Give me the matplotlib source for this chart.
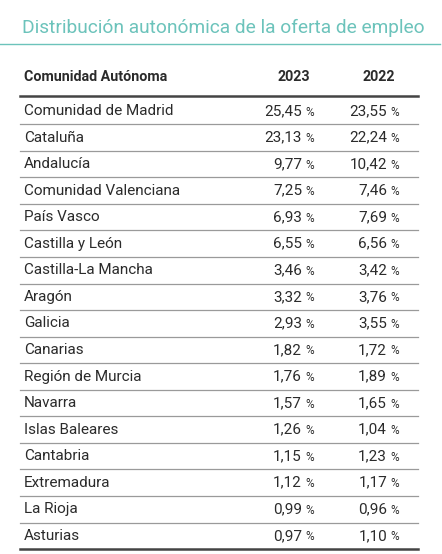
import matplotlib.pyplot as plt

# Table data
regions = ["Comunidad de Madrid", "Cataluña", "Andalucía", "Comunidad Valenciana",
           "País Vasco", "Castilla y León", "Castilla-La Mancha", "Aragón", "Galicia",
           "Canarias", "Región de Murcia", "Navarra", "Islas Baleares", "Cantabria",
           "Extremadura", "La Rioja", "Asturias"]
share_2023 = [25.45, 23.13, 9.77, 7.25, 6.93, 6.55, 3.46, 3.32, 2.93,
              1.82, 1.76, 1.57, 1.26, 1.15, 1.12, 0.99, 0.97]
share_2022 = [23.55, 22.24, 10.42, 7.46, 7.69, 6.56, 3.42, 3.76, 3.55,
              1.72, 1.89, 1.65, 1.04, 1.23, 1.17, 0.96, 1.10]
columns = ["Comunidad Autónoma", "2023", "2022"]

title = "Distribución autonómica de la oferta de empleo"
teal = "#6cc3bb"
text_col = "#2b2b2b"

plt.rcParams['font.family'] = ['Roboto', 'DejaVu Sans']

fig = plt.figure(figsize=(4.42, 5.54), dpi=100)
ax = fig.add_axes([0, 0, 1, 1])
ax.set_xlim(0, 442)
ax.set_ylim(554, 0)
ax.axis("off")

# title and underline
ax.text(22, 28, title, color=teal, fontsize=13.8, va="center", ha="left")
ax.plot([0, 440], [43.5, 43.5], color=teal, lw=1.0)

# header
x_label = 24
x_2023 = 302
x_2022 = 387
ax.text(x_label, 77, columns[0], fontsize=10.3, fontweight="bold", color=text_col, va="center")
ax.text(310, 77, columns[1], fontsize=10.3, fontweight="bold", color=text_col, va="center", ha="right")
ax.text(395, 77, columns[2], fontsize=10.3, fontweight="bold", color=text_col, va="center", ha="right")
ax.plot([20, 418], [96, 96], color="#444444", lw=1.8)

def fmt(v):
    return f"{v:.2f}".replace(".", ",")

y0 = 111
step = 26.55
for i, name in enumerate(regions):
    y = y0 + i * step
    ax.text(x_label, y, name, fontsize=11, color=text_col, va="center")
    for x, vals in ((x_2023, share_2023), (x_2022, share_2022)):
        ax.text(x, y, fmt(vals[i]), fontsize=11, color=text_col, va="center", ha="right")
        ax.text(x + 3, y + 1, "%", fontsize=8.5, color=text_col, va="center", ha="left")
    yl = y + step / 2
    if i < len(regions) - 1:
        ax.plot([20, 418], [yl, yl], color="#9a9a9a", lw=0.9)
    else:
        ax.plot([20, 418], [yl, yl], color="#444444", lw=1.8)

fig.savefig("out.png", dpi=100)
